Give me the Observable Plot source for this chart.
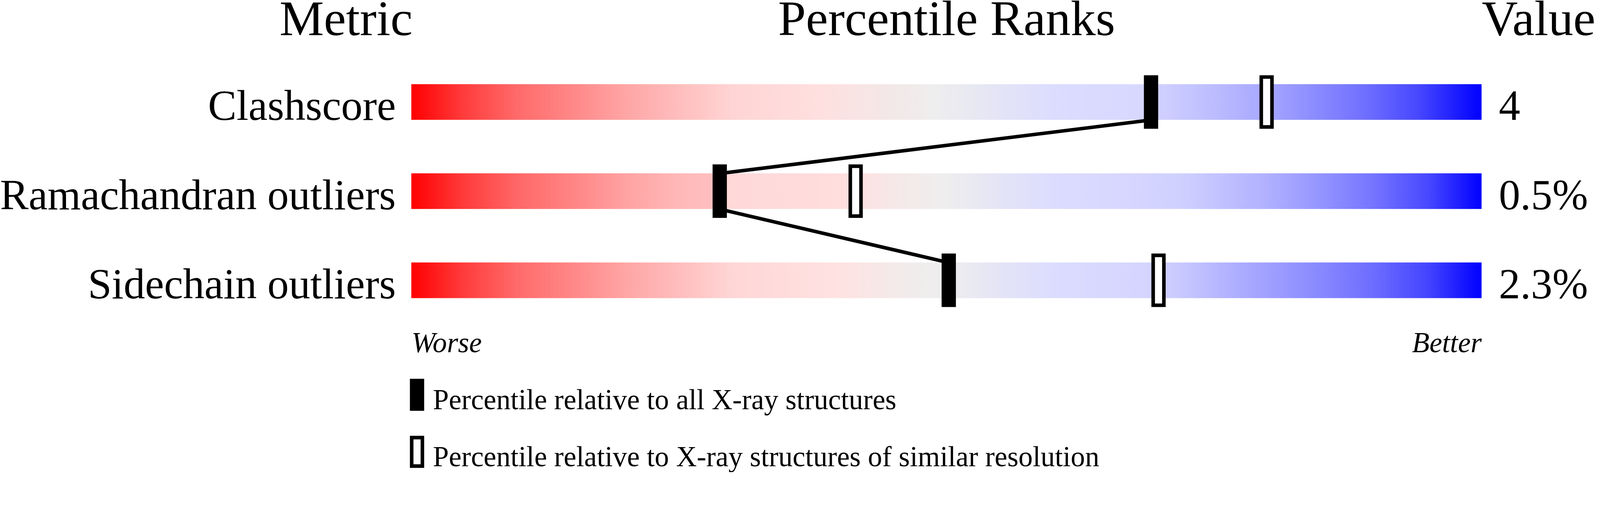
<!DOCTYPE html>
<html>
<head>
<meta charset="utf-8">
<script src="https://cdn.jsdelivr.net/npm/d3@7"></script>
<script src="https://cdn.jsdelivr.net/npm/@observablehq/plot@0.6"></script>
<style>
  html, body { margin: 0; padding: 0; background: #ffffff; }
  #chart svg { display: block; }
</style>
</head>
<body>
<div id="chart"></div>
<script>
// ---- data ----
const metrics = ["Clashscore", "Ramachandran outliers", "Sidechain outliers"];
const valueLabels = ["4", "0.5%", "2.3%"];
const pctAll = [69.1, 28.8, 50.2];       // percentile relative to all X-ray structures
const pctSimilar = [79.9, 41.5, 69.8];   // percentile relative to similar resolution
const headers = ["Metric", "Percentile Ranks", "Value"];
const endLabels = ["Worse", "Better"];
const legendLabels = [
  "Percentile relative to all X-ray structures",
  "Percentile relative to X-ray structures of similar resolution"
];

// ---- styles ----
const FONT = "Liberation Serif, 'Times New Roman', Times, serif";
const BAND = 0.4; // bar thickness in row units
const gradientStops = [
  [[0,"#ff0000"],[0.05,"#ff3d3d"],[0.1,"#ff6b6b"],[0.15,"#ff8787"],[0.2,"#ffa5a5"],[0.25,"#ffbdbd"],
   [0.3,"#ffd4d4"],[0.38,"#ffdfdf"],[0.45,"#f3e8e8"],[0.49,"#eeeeee"],[0.55,"#e4e4f6"],[0.6,"#dcdcff"],
   [0.68,"#d8d8ff"],[0.7,"#d0d0ff"],[0.75,"#bcbcff"],[0.8,"#a6a6ff"],[0.83,"#9494ff"],[0.89,"#7070ff"],
   [0.94,"#4848ff"],[1,"#0000ff"]],
  [[0,"#ff0000"],[0.05,"#ff3c3c"],[0.1,"#ff6868"],[0.15,"#ff8484"],[0.2,"#ffa2a2"],[0.25,"#ffb8b8"],
   [0.28,"#ffbebe"],[0.295,"#ffd8d8"],[0.41,"#ffdede"],[0.45,"#f6e8e8"],[0.5,"#eeeeee"],[0.55,"#e4e4f6"],
   [0.6,"#dcdcff"],[0.65,"#d8d8ff"],[0.72,"#d0d0ff"],[0.75,"#c4c4ff"],[0.8,"#b0b0ff"],[0.85,"#9494ff"],
   [0.9,"#7474ff"],[0.95,"#4848ff"],[1,"#0000ff"]],
  [[0,"#ff0000"],[0.05,"#ff3d3d"],[0.1,"#ff6b6b"],[0.15,"#ff8787"],[0.2,"#ffa5a5"],[0.25,"#ffbdbd"],
   [0.3,"#ffd6d6"],[0.4,"#ffe2e2"],[0.47,"#f0ecec"],[0.5,"#eeeeee"],[0.55,"#e4e4f6"],[0.6,"#dcdcff"],
   [0.69,"#d4d4ff"],[0.72,"#c8c8ff"],[0.75,"#b8b8ff"],[0.8,"#a0a0ff"],[0.85,"#8888ff"],[0.9,"#6c6cff"],
   [0.95,"#4444ff"],[1,"#0000ff"]]
];

const rows = metrics.map((metric, i) => ({
  metric, i, value: valueLabels[i], all: pctAll[i], similar: pctSimilar[i], grad: `url(#grad${i})`
}));
const links = d3.pairs(rows).map(([a, b]) => ({x1: a.all, y1: a.i + BAND, x2: b.all, y2: b.i}));

const HEADER_Y = -0.552;
const END_Y = 3.004;
const LEGEND = [{y1: 3.304, y2: 3.664, base: 3.644}, {y1: 3.944, y2: 4.304, base: 4.284}];

const defsMark = () => {
  const defs = d3.create("svg:defs");
  gradientStops.forEach((stops, i) => {
    const g = defs.append("linearGradient")
      .attr("id", `grad${i}`).attr("x1", "0").attr("x2", "1").attr("y1", "0").attr("y2", "0");
    g.selectAll("stop").data(stops).join("stop")
      .attr("offset", d => d[0]).attr("stop-color", d => d[1]);
  });
  return defs.node();
};

const txt = {fontFamily: FONT, fill: "black", lineAnchor: "bottom"};

const chart = Plot.plot({
  width: 4485,
  height: 1324,
  margin: 0,
  style: {background: "white"},
  x: {domain: [0, 100], range: [1153, 4153], axis: null},
  y: {domain: [0, 1], range: [236, 486], axis: null},
  marks: [
    defsMark,
    // gradient bars
    Plot.rect(rows, {x1: () => 0, x2: () => 100, y1: d => d.i, y2: d => d.i + BAND, fill: "grad"}),
    // connecting lines
    Plot.link(links, {x1: "x1", y1: "y1", x2: "x2", y2: "y2", stroke: "black", strokeWidth: 10}),
    // filled markers
    Plot.ruleX(rows, {x: "all", y1: d => d.i, y2: d => d.i + BAND, stroke: "black", strokeWidth: 40,
      strokeLinecap: "butt", insetTop: -25, insetBottom: -25}),
    // open markers
    Plot.ruleX(rows, {x: "similar", y1: d => d.i, y2: d => d.i + BAND, stroke: "black", strokeWidth: 40,
      strokeLinecap: "butt", insetTop: -25, insetBottom: -25}),
    Plot.ruleX(rows, {x: "similar", y1: d => d.i, y2: d => d.i + BAND, stroke: "white", strokeWidth: 20,
      strokeLinecap: "butt", insetTop: -15, insetBottom: -15}),
    // metric labels
    Plot.text(rows, {...txt, x: () => 0, y: d => d.i + BAND, text: "metric", textAnchor: "end", dx: -44, fontSize: 120}),
    // value labels
    Plot.text(rows, {...txt, x: () => 100, y: d => d.i + BAND, text: "value", textAnchor: "start", dx: 48, fontSize: 120}),
    // headers
    Plot.text([headers[0]], {...txt, x: () => 0, y: () => HEADER_Y, text: d => d, textAnchor: "end", dx: 3, fontSize: 140}),
    Plot.text([headers[1]], {...txt, x: () => 50, y: () => HEADER_Y, text: d => d, textAnchor: "middle", fontSize: 140}),
    Plot.text([headers[2]], {...txt, x: () => 100, y: () => HEADER_Y, text: d => d, textAnchor: "start", dx: 0, fontSize: 140}),
    // worse / better
    Plot.text([endLabels[0]], {...txt, x: () => 0, y: () => END_Y, text: d => d, textAnchor: "start", fontSize: 80, fontStyle: "italic"}),
    Plot.text([endLabels[1]], {...txt, x: () => 100, y: () => END_Y, text: d => d, textAnchor: "end", fontSize: 80, fontStyle: "italic"}),
    // legend
    Plot.ruleX([0], {x: () => 0, dx: 15.5, y1: () => LEGEND[0].y1, y2: () => LEGEND[0].y2, stroke: "black", strokeWidth: 40, strokeLinecap: "butt"}),
    Plot.ruleX([0], {x: () => 0, dx: 15.5, y1: () => LEGEND[1].y1, y2: () => LEGEND[1].y2, stroke: "black", strokeWidth: 40, strokeLinecap: "butt"}),
    Plot.ruleX([0], {x: () => 0, dx: 15.5, y1: () => LEGEND[1].y1, y2: () => LEGEND[1].y2, stroke: "white", strokeWidth: 20, strokeLinecap: "butt", insetTop: 10, insetBottom: 10}),
    Plot.text([legendLabels[0]], {...txt, x: () => 0, y: () => LEGEND[0].base, text: d => d, textAnchor: "start", dx: 60, fontSize: 80}),
    Plot.text([legendLabels[1]], {...txt, x: () => 0, y: () => LEGEND[1].base, text: d => d, textAnchor: "start", dx: 60, fontSize: 80})
  ]
});
document.getElementById("chart").appendChild(chart);
</script>
</body>
</html>
